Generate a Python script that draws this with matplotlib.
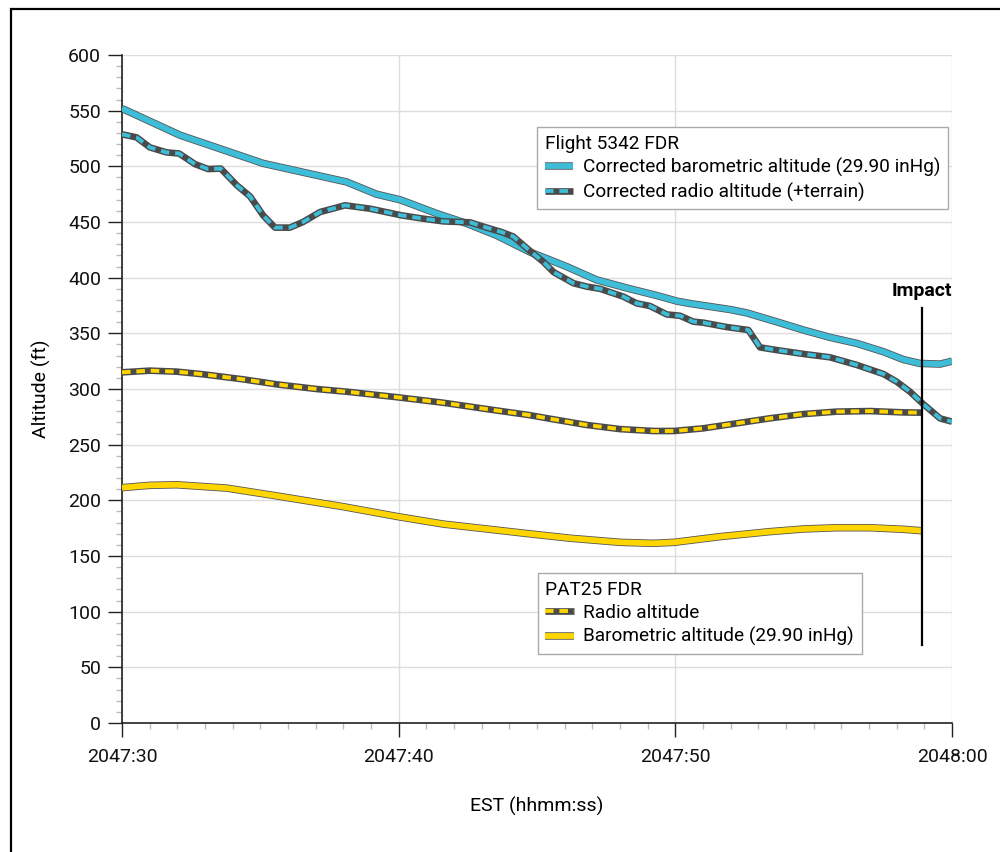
import numpy as np
import matplotlib
matplotlib.use("Agg")
import matplotlib.pyplot as plt
import matplotlib.patheffects as pe
from matplotlib.patches import Rectangle
from matplotlib.ticker import MultipleLocator

plt.rcParams['font.family'] = ['Roboto', 'DejaVu Sans']

# seconds after 2047:30 EST
baro_t = [0, 2.1, 5.1, 5.95, 8.12, 9.2, 10.05, 10.41, 11.37, 12.46, 13.54, 14.75,
          16.07, 17.16, 18.36, 19.33, 20.05, 20.53, 21.98, 22.58, 23.66, 24.63,
          25.59, 26.56, 27.52, 28.24, 28.84, 29.57, 30]
baro_alt = [552, 528, 502.7, 498, 486, 475, 470, 466.7, 457.7, 448.7, 438, 423,
            410, 398, 390, 384, 379, 376.8, 371.4, 368.4, 360.4, 353,
            346.4, 341, 333.5, 326.5, 323, 322.4, 325]

radio_t = [0, 0.53, 1.01, 1.62, 2.06, 2.64, 3.11, 3.57, 4.15, 4.63, 5.1, 5.53,
           6.07, 6.54, 7.16, 8.06, 8.96, 10.1, 10.89, 11.61, 12.58, 13.18, 13.72,
           14.14, 14.75, 15.24, 15.6, 16.32, 16.8, 17.28, 18.12, 18.6, 19.08,
           19.69, 20.17, 20.65, 21.01, 21.85, 22.64, 23.06, 23.66, 24.63, 25.59,
           26.56, 27.52, 28.0, 28.48, 28.96, 29.57, 30]
radio_alt = [528.8, 526, 517, 512.5, 511.6, 502, 497.6, 498, 483, 473, 456, 445,
             445, 450, 459, 465, 462, 456, 453, 450.6, 449.7, 445, 441,
             437, 424, 414, 405, 395, 392, 390, 383, 377, 374.6,
             367, 365.8, 360.5, 359.6, 355.7, 353, 337.4, 335, 331.5, 328.5,
             321.6, 313.5, 306.6, 297.6, 286.5, 273.6, 270.7]

pat_radio_t = [0, 1.01, 1.98, 2.94, 4.38, 5.59, 7.04, 8.24, 9.99, 11.61, 13.18,
               14.69, 15.59, 16.8, 18.0, 19.2, 19.96, 21.01, 22.22, 23.42, 24.63,
               25.83, 27.04, 28.24, 28.9]
pat_radio_alt = [315, 316.5, 315.6, 313.2, 308.7, 304.2, 300, 297.3, 292.5, 287.7, 282,
                 276.7, 272.8, 267.7, 264, 262.3, 262.3, 264.7, 269.2, 273.7, 277.5,
                 279.7, 280.2, 279, 278.8]

pat_baro_t = [0, 1.01, 1.98, 3.79, 5.59, 8.0, 9.99, 11.61, 13.18, 14.6, 16.19,
              18.0, 19.2, 19.96, 21.61, 23.42, 24.63, 25.83, 27.04, 28.24, 28.9]
pat_baro_alt = [211.4, 213.5, 214, 211, 204, 194.3, 185.3, 178.7, 174.3, 170.3, 166,
                162.3, 161.4, 162.3, 167.4, 171.9, 174.3, 175.4, 175.4, 174, 172.7]

impact_t = 28.9
xtick_pos = [0, 10, 20, 30]
xtick_labels = ["2047:30", "2047:40", "2047:50", "2048:00"]

BLUE = "#3dbdd8"
YELLOW = "#ffd500"
DARK = "#4a4a4a"

fig = plt.figure(figsize=(10, 8.52), dpi=100)
ax = fig.add_axes([0.122, 0.1514, 0.83, 0.784])

outline = [pe.Stroke(linewidth=5.4, foreground="#555555"), pe.Normal()]

l_baro, = ax.plot(baro_t, baro_alt, color=BLUE, lw=4.2, path_effects=outline,
                  solid_capstyle="butt", zorder=4)
r_base, = ax.plot(radio_t, radio_alt, color=DARK, lw=4.8, solid_capstyle="butt", zorder=5)
r_dash, = ax.plot(radio_t, radio_alt, color=BLUE, lw=2.8, ls=(0, (2.2, 1.5)),
                  dash_capstyle="butt", zorder=6)
p_base, = ax.plot(pat_radio_t, pat_radio_alt, color=DARK, lw=4.8, solid_capstyle="butt", zorder=5)
p_dash, = ax.plot(pat_radio_t, pat_radio_alt, color=YELLOW, lw=2.8, ls=(0, (2.2, 1.5)),
                  dash_capstyle="butt", zorder=6)
l_pbaro, = ax.plot(pat_baro_t, pat_baro_alt, color=YELLOW, lw=4.2, path_effects=outline,
                   solid_capstyle="butt", zorder=4)

# impact marker
ax.plot([impact_t, impact_t], [70, 373], color="black", lw=1.6, zorder=7)
ax.text(impact_t, 380, "Impact", ha="center", va="bottom", fontsize=14,
        fontweight="bold", color="black")

ax.set_xlim(0, 30)
ax.set_ylim(0, 600)
ax.set_xticks(xtick_pos)
ax.set_xticklabels(xtick_labels)
ax.xaxis.set_minor_locator(MultipleLocator(1))
ax.yaxis.set_major_locator(MultipleLocator(50))
ax.yaxis.set_minor_locator(MultipleLocator(10))
ax.tick_params(axis="both", which="major", length=10, width=1, color="#222222",
               labelsize=14, labelcolor="#111111")
ax.tick_params(axis="x", which="major", pad=8)
ax.tick_params(axis="y", which="major", pad=5)
ax.tick_params(axis="both", which="minor", length=4.5, width=1, color="#bbbbbb")
ax.grid(True, which="major", color="#dedede", lw=1)
ax.set_axisbelow(True)
for s in ["top", "right"]:
    ax.spines[s].set_visible(False)
for s in ["left", "bottom"]:
    ax.spines[s].set_color("#222222")
    ax.spines[s].set_linewidth(1.2)

ax.set_xlabel("EST (hhmm:ss)", fontsize=14, labelpad=22)
ax.set_ylabel("Altitude (ft)", fontsize=14, labelpad=12)

leg_kw = dict(loc="upper left", borderaxespad=0, fontsize=13.7, title_fontsize=13.7,
              alignment="left", fancybox=False, edgecolor="#aaaaaa", framealpha=1,
              handlelength=1.5, handletextpad=0.5, labelspacing=0.28, borderpad=0.4)
leg1 = ax.legend([l_baro, (r_base, r_dash)],
                 ["Corrected barometric altitude (29.90 inHg)",
                  "Corrected radio altitude (+terrain)"],
                 title="Flight 5342 FDR", bbox_to_anchor=(0.5, 0.892), **leg_kw)
leg1.get_frame().set_linewidth(1)
ax.add_artist(leg1)
leg2 = ax.legend([(p_base, p_dash), l_pbaro],
                 ["Radio altitude", "Barometric altitude (29.90 inHg)"],
                 title="PAT25 FDR", bbox_to_anchor=(0.501, 0.2246), **leg_kw)
leg2.get_frame().set_linewidth(1)

# outer frame
fig.patches.append(Rectangle((0.011, -0.2), 1.5, 0.2 + 0.9894, transform=fig.transFigure,
                             fill=False, edgecolor="black", lw=1.6))

fig.savefig("out.png", dpi=100)
